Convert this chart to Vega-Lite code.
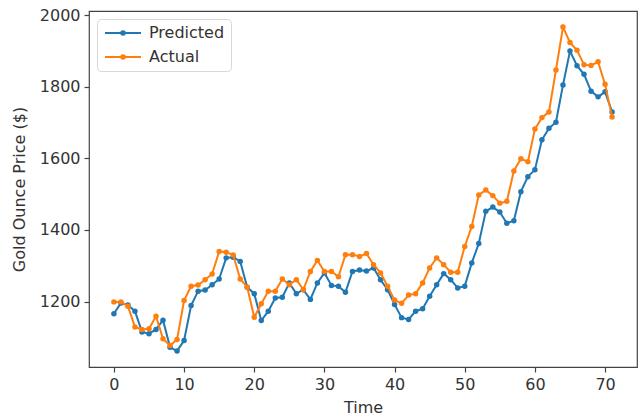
{
  "$schema": "https://vega.github.io/schema/vega-lite/v6.json",
  "width": 548,
  "height": 356,
  "autosize": "none",
  "padding": {"left": 89, "top": 11, "right": 4, "bottom": 52},
  "background": "white",
  "config": {
    "font": "DejaVu Sans",
    "view": {"stroke": "#444", "strokeWidth": 1.2},
    "axis": {
      "grid": false,
      "domain": false,
      "tickColor": "#444",
      "tickSize": 5,
      "tickWidth": 1.2,
      "labelFontSize": 16,
      "labelColor": "#333",
      "titleFontSize": 16,
      "titleFontWeight": "normal",
      "titleColor": "#333",
      "labelPadding": 4,
      "format": "d"
    },
    "legend": {
      "orient": "top-left",
      "offset": 8,
      "fillColor": "white",
      "strokeColor": "#d8d8d8",
      "cornerRadius": 4,
      "padding": 6,
      "labelFontSize": 16,
      "labelColor": "#333",
      "rowPadding": 8,
      "symbolType": "M-3,0H3M-0.3,0A0.3,0.3,0,1,1,0.3,0A0.3,0.3,0,1,1,-0.3,0",
      "symbolSize": 144,
      "symbolStrokeWidth": 2,
      "symbolOffset": 12,
      "labelOffset": 18
    }
  },
  "data": {
    "values": [
      {"t": 0, "Predicted": 1166, "Actual": 1199},
      {"t": 1, "Predicted": 1196, "Actual": 1199},
      {"t": 2, "Predicted": 1190, "Actual": 1187},
      {"t": 3, "Predicted": 1173, "Actual": 1129},
      {"t": 4, "Predicted": 1115, "Actual": 1122},
      {"t": 5, "Predicted": 1110, "Actual": 1124},
      {"t": 6, "Predicted": 1122, "Actual": 1159},
      {"t": 7, "Predicted": 1148, "Actual": 1096},
      {"t": 8, "Predicted": 1072, "Actual": 1077},
      {"t": 9, "Predicted": 1062, "Actual": 1094},
      {"t": 10, "Predicted": 1091, "Actual": 1203},
      {"t": 11, "Predicted": 1189, "Actual": 1243},
      {"t": 12, "Predicted": 1229, "Actual": 1246},
      {"t": 13, "Predicted": 1232, "Actual": 1261},
      {"t": 14, "Predicted": 1247, "Actual": 1277},
      {"t": 15, "Predicted": 1263, "Actual": 1340},
      {"t": 16, "Predicted": 1322, "Actual": 1338},
      {"t": 17, "Predicted": 1324, "Actual": 1330},
      {"t": 18, "Predicted": 1312, "Actual": 1263},
      {"t": 19, "Predicted": 1240, "Actual": 1240},
      {"t": 20, "Predicted": 1222, "Actual": 1156},
      {"t": 21, "Predicted": 1147, "Actual": 1194},
      {"t": 22, "Predicted": 1173, "Actual": 1229},
      {"t": 23, "Predicted": 1210, "Actual": 1229},
      {"t": 24, "Predicted": 1212, "Actual": 1263},
      {"t": 25, "Predicted": 1252, "Actual": 1247},
      {"t": 26, "Predicted": 1222, "Actual": 1261},
      {"t": 27, "Predicted": 1233, "Actual": 1233},
      {"t": 28, "Predicted": 1206, "Actual": 1284},
      {"t": 29, "Predicted": 1252, "Actual": 1315},
      {"t": 30, "Predicted": 1280, "Actual": 1284},
      {"t": 31, "Predicted": 1245, "Actual": 1284},
      {"t": 32, "Predicted": 1243, "Actual": 1269},
      {"t": 33, "Predicted": 1226, "Actual": 1331},
      {"t": 34, "Predicted": 1284, "Actual": 1331},
      {"t": 35, "Predicted": 1288, "Actual": 1326},
      {"t": 36, "Predicted": 1285, "Actual": 1334},
      {"t": 37, "Predicted": 1294, "Actual": 1303},
      {"t": 38, "Predicted": 1261, "Actual": 1280},
      {"t": 39, "Predicted": 1233, "Actual": 1243},
      {"t": 40, "Predicted": 1192, "Actual": 1204},
      {"t": 41, "Predicted": 1155, "Actual": 1195},
      {"t": 42, "Predicted": 1150, "Actual": 1218},
      {"t": 43, "Predicted": 1173, "Actual": 1222},
      {"t": 44, "Predicted": 1180, "Actual": 1252},
      {"t": 45, "Predicted": 1215, "Actual": 1294},
      {"t": 46, "Predicted": 1247, "Actual": 1322},
      {"t": 47, "Predicted": 1278, "Actual": 1303},
      {"t": 48, "Predicted": 1261, "Actual": 1282},
      {"t": 49, "Predicted": 1238, "Actual": 1282},
      {"t": 50, "Predicted": 1243, "Actual": 1354},
      {"t": 51, "Predicted": 1308, "Actual": 1410},
      {"t": 52, "Predicted": 1362, "Actual": 1498},
      {"t": 53, "Predicted": 1452, "Actual": 1512},
      {"t": 54, "Predicted": 1464, "Actual": 1496},
      {"t": 55, "Predicted": 1450, "Actual": 1475},
      {"t": 56, "Predicted": 1419, "Actual": 1480},
      {"t": 57, "Predicted": 1426, "Actual": 1565},
      {"t": 58, "Predicted": 1507, "Actual": 1599},
      {"t": 59, "Predicted": 1549, "Actual": 1591},
      {"t": 60, "Predicted": 1568, "Actual": 1682},
      {"t": 61, "Predicted": 1652, "Actual": 1714},
      {"t": 62, "Predicted": 1684, "Actual": 1730},
      {"t": 63, "Predicted": 1701, "Actual": 1847},
      {"t": 64, "Predicted": 1805, "Actual": 1967},
      {"t": 65, "Predicted": 1900, "Actual": 1924},
      {"t": 66, "Predicted": 1859, "Actual": 1902},
      {"t": 67, "Predicted": 1835, "Actual": 1862},
      {"t": 68, "Predicted": 1788, "Actual": 1860},
      {"t": 69, "Predicted": 1772, "Actual": 1870},
      {"t": 70, "Predicted": 1786, "Actual": 1807},
      {"t": 71, "Predicted": 1730, "Actual": 1716}
    ]
  },
  "transform": [{"fold": ["Predicted", "Actual"], "as": ["series", "price"]}],
  "encoding": {
    "x": {
      "field": "t",
      "type": "quantitative",
      "title": "Time",
      "scale": {"domain": [-3.55, 74.55], "nice": false, "zero": false},
      "axis": {"values": [0, 10, 20, 30, 40, 50, 60, 70], "titlePadding": 7}
    },
    "y": {
      "field": "price",
      "type": "quantitative",
      "title": "Gold Ounce Price ($)",
      "scale": {"domain": [1017, 2012], "nice": false, "zero": false},
      "axis": {"values": [1200, 1400, 1600, 1800, 2000], "titlePadding": 12}
    },
    "color": {
      "field": "series",
      "type": "nominal",
      "title": null,
      "scale": {"domain": ["Predicted", "Actual"], "range": ["#1f77b4", "#ff7f0e"]}
    }
  },
  "layer": [
    {
      "transform": [{"filter": "datum.series === 'Predicted'"}],
      "mark": {"type": "line", "strokeWidth": 2, "point": {"filled": true, "size": 30}}
    },
    {
      "transform": [{"filter": "datum.series === 'Actual'"}],
      "mark": {"type": "line", "strokeWidth": 2, "point": {"filled": true, "size": 30}}
    }
  ]
}
